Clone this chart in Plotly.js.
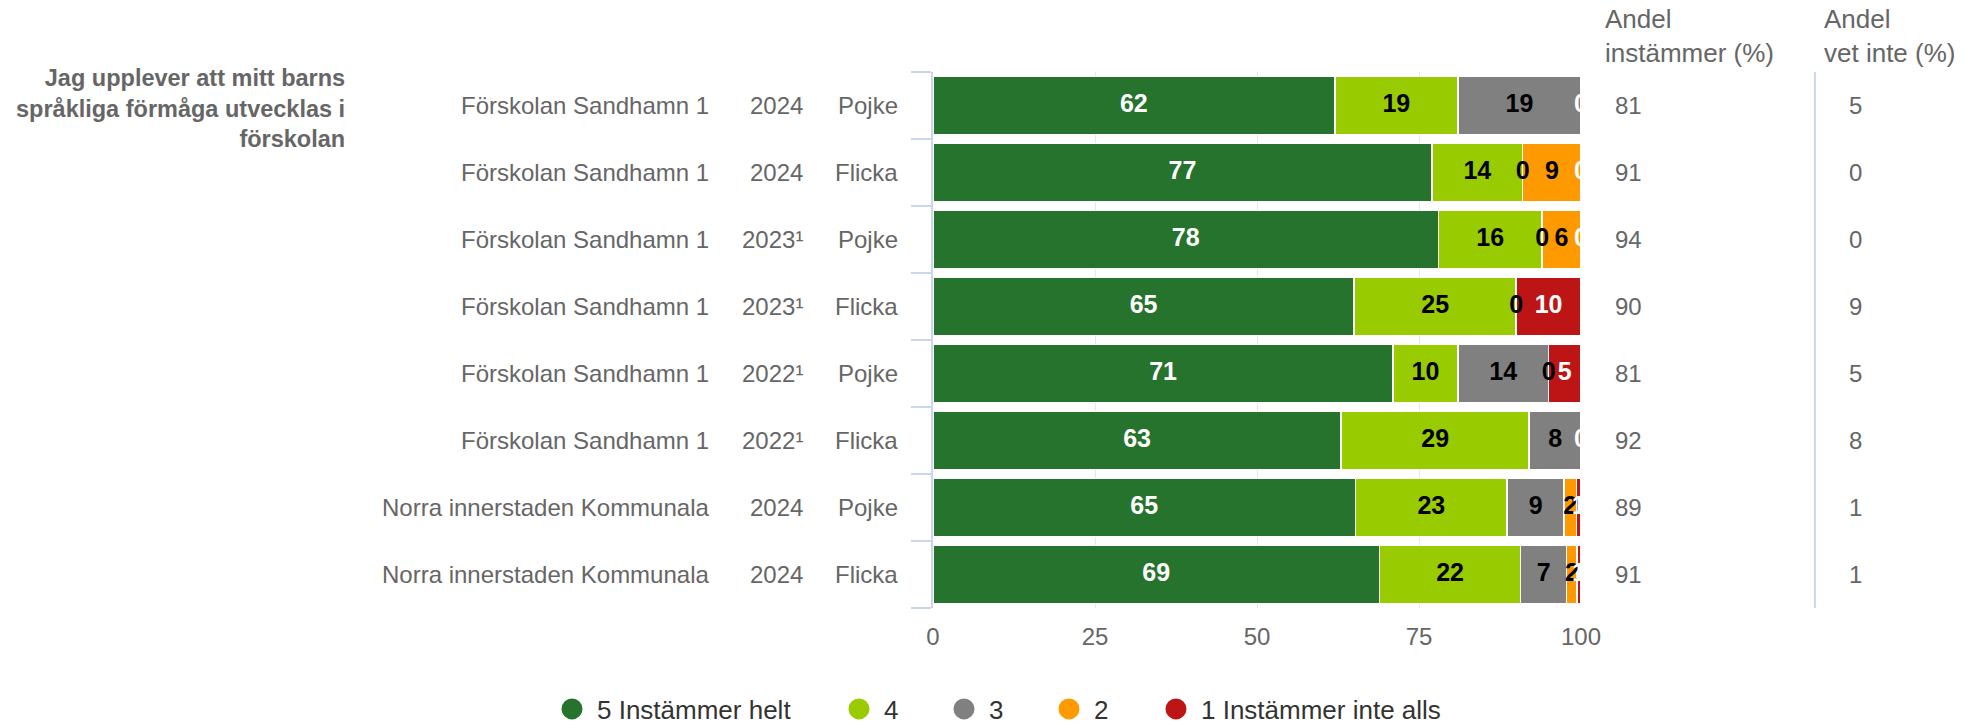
<!DOCTYPE html>
<html><head><meta charset="utf-8">
<script src="https://cdn.plot.ly/plotly-3.0.1.min.js"></script>
<style>html,body{margin:0;padding:0;background:#fff}#chart{width:1965px;height:727px}</style>
</head><body><div id="chart"></div>
<script>
// ---------- data ----------
const questionLabel = "Jag upplever att mitt barns<br>språkliga förmåga utvecklas i<br>förskolan";
const units = ["Förskolan Sandhamn 1","Förskolan Sandhamn 1","Förskolan Sandhamn 1","Förskolan Sandhamn 1",
               "Förskolan Sandhamn 1","Förskolan Sandhamn 1","Norra innerstaden Kommunala","Norra innerstaden Kommunala"];
const years = ["2024","2024","2023¹","2023¹","2022¹","2022¹","2024","2024"];
const genders = ["Pojke","Flicka","Pojke","Flicka","Pojke","Flicka","Pojke","Flicka"];
const seriesNames = ["5 Instämmer helt","4","3","2","1 Instämmer inte alls"];
const s5 = [62,77,78,65,71,63,65.2,68.9];
const s4 = [19,14,16,25,10,29,23.4,21.8];
const s3 = [19,0,0,0,14,8,8.8,7.1];
const s2 = [0,9,6,0,0,0,1.9,1.6];
const s1 = [0,0,0,10,5,0,0.7,0.6];
const andelInstammer = [81,91,94,90,81,92,89,91];
const andelVetInte = [5,0,0,9,5,8,1,1];
const headerInstammer = "Andel<br>instämmer (%)";
const headerVetInte = "Andel<br>vet inte (%)";
const xTicks = [0,25,50,75,100];

// ---------- styles ----------
const seriesColors = ["#26732e","#99cc00","#808080","#ff9900","#bd1515"];
const labelColors = ["#ffffff","#000000","#000000","#000000","#ffffff"];
const legendWidths = [232,50,50,52,260];
const FONT = "Liberation Sans, Arial, sans-serif";
const series = [s5,s4,s3,s2,s1];
const rows = units.map((_, i) => i);

const traces = [];
// stacked bars
series.forEach((vals, k) => {
  traces.push({
    type: 'bar', orientation: 'h', x: vals, y: rows, name: seriesNames[k],
    marker: {color: seriesColors[k], line: {color: '#ffffff', width: 1.5}},
    showlegend: false, hoverinfo: 'skip'
  });
});
// data label positions: middle of each stacked segment
const cum = rows.map(() => 0);
const labelX = series.map(vals => {
  const xs = vals.map((v, i) => cum[i] + v / 2);
  vals.forEach((v, i) => { cum[i] += v; });
  return xs;
});
// like the original chart, a label that sits exactly on a later label is hidden
const labelText = series.map((vals, k) => vals.map((v, i) => {
  for (let j = k + 1; j < series.length; j++) {
    if (Math.abs(labelX[j][i] - labelX[k][i]) < 1e-9) return '';
  }
  return String(Math.round(v));
}));
series.forEach((vals, k) => {
  traces.push({
    type: 'scatter', mode: 'text', x: labelX[k], y: rows,
    text: labelText[k], textposition: 'middle center',
    textfont: {family: FONT, size: 25, color: labelColors[k], weight: 'bold'},
    cliponaxis: true, showlegend: false, hoverinfo: 'skip'
  });
});
// legend entries (circle symbols)
series.forEach((vals, k) => {
  traces.push({
    type: 'scatter', mode: 'markers', x: [null], y: [null], name: seriesNames[k],
    marker: {symbol: 'circle', size: 16, color: seriesColors[k], line: {color: seriesColors[k], width: 5}},
    legendwidth: legendWidths[k], showlegend: true, hoverinfo: 'skip'
  });
});

const annotations = [];
const txt = {family: FONT, size: 24, color: '#666666'};
rows.forEach(i => {
  annotations.push({xref:'paper', yref:'y', x:-0.3426, y:i, xanchor:'right', yanchor:'middle', text: units[i], showarrow:false, font: txt});
  annotations.push({xref:'paper', yref:'y', x:-0.1982, y:i, xanchor:'right', yanchor:'middle', text: years[i], showarrow:false, font: txt});
  annotations.push({xref:'paper', yref:'y', x:-0.0510, y:i, xanchor:'right', yanchor:'middle', text: genders[i], showarrow:false, font: txt});
  annotations.push({xref:'paper', yref:'y', x:1.050, y:i, xanchor:'left', yanchor:'middle', text: String(andelInstammer[i]), showarrow:false, font: txt});
  annotations.push({xref:'paper', yref:'y', x:1.410, y:i, xanchor:'left', yanchor:'middle', text: String(andelVetInte[i]), showarrow:false, font: txt});
});
annotations.push({xref:'paper', yref:'y', x:-0.904, y:0.04, xanchor:'right', yanchor:'middle', align:'right',
  text: questionLabel, showarrow:false, font:{family: FONT, size: 23.5, color:'#666666', weight:'bold'}});
annotations.push({xref:'paper', yref:'paper', x:1.0332, y:1.1306, xanchor:'left', yanchor:'top', align:'left',
  text: headerInstammer, showarrow:false, font:{family: FONT, size: 26, color:'#666666'}});
annotations.push({xref:'paper', yref:'paper', x:1.3720, y:1.1306, xanchor:'left', yanchor:'top', align:'left',
  text: headerVetInte, showarrow:false, font:{family: FONT, size: 26, color:'#666666'}});

const boundaries = [-0.5].concat(rows.map(i => i + 0.5));

const layout = {
  width: 1965, height: 727,
  margin: {l: 933, r: 384, t: 72, b: 119, pad: 0, autoexpand: false},
  paper_bgcolor: '#ffffff', plot_bgcolor: '#ffffff',
  barmode: 'stack', bargap: 0.14,
  font: {family: FONT, color: '#666666'},
  xaxis: {range: [0, 100], tickvals: xTicks, ticktext: xTicks.map(String),
    showgrid: true, gridcolor: '#e6e6e6', gridwidth: 1, zeroline: false,
    showline: false, ticks: '', ticklabelstandoff: 12,
    tickfont: {family: FONT, size: 24, color: '#666666'}, fixedrange: true},
  yaxis: {range: [rows.length - 0.5, -0.5], tickvals: boundaries, showticklabels: false,
    ticks: 'outside', ticklen: 20, tickwidth: 2, tickcolor: '#ccd6eb',
    showline: true, linecolor: '#ccd6eb', linewidth: 2, showgrid: false, zeroline: false, fixedrange: true},
  shapes: [{type:'line', xref:'paper', yref:'paper', x0:1.361, x1:1.361, y0:0, y1:1,
    line:{color:'#ccd6eb', width:2}}],
  annotations: annotations,
  showlegend: true,
  legend: {orientation: 'h', x: -0.5957, xanchor: 'left', y: -0.1884, yanchor: 'middle',
    font: {family: FONT, size: 26, color: '#333333'}, itemwidth: 40, traceorder: 'normal',
    bgcolor: 'rgba(0,0,0,0)'},
  hovermode: false
};

Plotly.newPlot('chart', traces, layout, {displayModeBar: false, staticPlot: true});
</script></body></html>
